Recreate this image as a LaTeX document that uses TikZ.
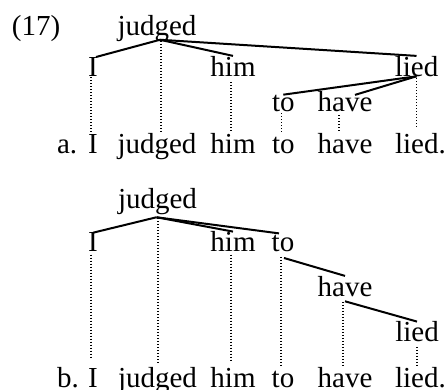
\documentclass[tikz,border=0pt]{standalone}
\usepackage{fontspec}
\setmainfont{Liberation Serif}
\usetikzlibrary{calc}
\begin{document}
\begin{tikzpicture}[x=1pt,y=-1pt,
  word/.style={inner sep=0pt, outer sep=0pt, anchor=base, font=\fontsize{29}{34}\selectfont},
  branch/.style={line width=2pt},
  proj/.style={line width=1.2pt, dash pattern=on 1.2pt off 1.8pt}]
\useasboundingbox (0,0) rectangle (446,389);

% ---------- (17a) ----------
\node[word, anchor=base west] (ex) at (12,35) {(17)};
\node[word] (jA) at (157,35) {judged};
\node[word] (IA) at (93,76) {I};
\node[word] (himA) at (233,76) {him};
\node[word] (liedA) at (416.5,76) {lied};
\node[word] (toA) at (283.3,111) {to};
\node[word] (haveA) at (345,111) {have};

\node[word, anchor=base west] (la) at (57,153) {a.};
\node[word] (I0a) at (93,153) {I};
\node[word] (j0a) at (157,153) {judged};
\node[word] (him0a) at (233,153) {him};
\node[word] (to0a) at (283.3,153) {to};
\node[word] (have0a) at (345,153) {have};
\node[word, anchor=base west] (lied0a) at (395,153) {lied.};

\coordinate (jAr) at ($(jA.south)+(3,-1.5)$);
\draw[branch] (jAr) -- ($(IA.north)+(3,0)$);
\draw[branch] (jAr) -- (himA.north);
\draw[branch] (jAr) -- (liedA.north);
\draw[branch] (liedA.south) -- (toA.north);
\draw[branch] (liedA.south) -- ($(haveA.north)+(10,4)$);

\draw[proj] ($(IA.south)+(-2,1)$) -- ($(I0a.north)+(-2,-2)$);
\draw[proj] ($(jAr)+(1,1)$) -- ($(jAr |- j0a.north)+(1,-1)$);
\draw[proj] ($(himA.south)+(-2,6)$) -- ($(him0a.north)+(-2,-1)$);
\draw[proj] ($(toA.south)+(-2,2)$) -- ($(to0a.north)+(-2,-3)$);
\draw[proj] ($(haveA.south)+(-6,4)$) -- ($(have0a.north)+(-6,-1)$);
\draw[proj] ($(liedA.south)+(0,2)$) -- ($(liedA.south |- lied0a.north)+(0,-4)$);

% ---------- (17b) ----------
\node[word] (jB) at (157.5,208) {judged};
\node[word] (IB) at (93,251.7) {I};
\node[word] (himB) at (233,251.7) {him};
\node[word] (toB) at (283,251.7) {to};
\node[word] (haveB) at (345,296) {have};
\node[word] (liedB) at (417,341.7) {lied};

\node[word, anchor=base west] (lb) at (57,387.5) {b.};
\node[word] (I0b) at (93,387.5) {I};
\node[word] (j0b) at (157.5,387.5) {judged};
\node[word] (him0b) at (233,387.5) {him};
\node[word] (to0b) at (283,387.5) {to};
\node[word] (have0b) at (345,387.5) {have};
\node[word, anchor=base west] (lied0b) at (395,387.5) {lied.};

\coordinate (jBr) at ($(jB.south)+(-1,3)$);
\draw[branch] (jBr) -- (IB.north);
\draw[branch] (jBr) -- (himB.north);
\draw[branch] (jBr) -- ($(toB.north)+(-4,-2)$);
\draw[branch] ($(toB.south)+(1,6)$) -- (haveB.north);
\draw[branch] ($(haveB.south)+(0,5)$) -- (liedB.north);

\draw[proj] ($(IB.south)+(-2,3)$) -- ($(IB.south |- I0b.north)+(-2,-9)$);
\draw[proj] ($(jBr)+(1.5,1)$) -- ($(jBr |- j0b.north)+(1.5,-3)$);
\draw[proj] ($(himB.south)+(-2,3)$) -- ($(him0b.north)+(-2,-5)$);
\draw[proj] ($(toB.south)+(-2,5)$) -- ($(to0b.north)+(-2,-4)$);
\draw[proj] ($(haveB.south)+(-2,5.5)$) -- ($(have0b.north)+(-2,-1.5)$);
\draw[proj] ($(liedB.south)+(0,5)$) -- ($(liedB.south |- lied0b.north)+(0,-1.5)$);
\end{tikzpicture}
\end{document}
